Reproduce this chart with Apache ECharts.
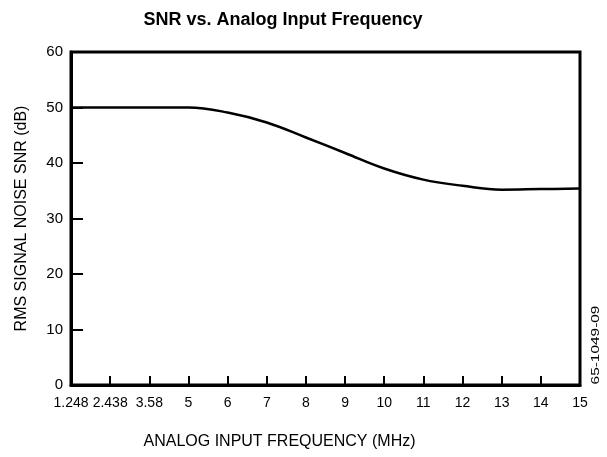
<!DOCTYPE html>
<html>
<head>
<meta charset="utf-8">
<script src="https://cdn.jsdelivr.net/npm/echarts@6/dist/echarts.min.js"></script>
<style>
html,body{margin:0;padding:0;background:#fff;}
#c{width:607px;height:457px;}
</style>
</head>
<body>
<div id="c"></div>
<script>
const categories = ['1.248','2.438','3.58','5','6','7','8','9','10','11','12','13','14','15'];
const snrValues = [50, 50, 50, 50, 49.1, 47.3, 44.6, 41.8, 39.0, 37.0, 35.9, 35.2, 35.3, 35.4];
const yTicks = {min: 0, max: 60, interval: 10};

const FONT = 'Liberation Sans, Arial, Helvetica, sans-serif';
const chart = echarts.init(document.getElementById('c'), null, {renderer: 'canvas'});
chart.setOption({
  backgroundColor: '#fff',
  animation: false,
  title: {
    text: 'SNR vs. Analog Input Frequency',
    left: 278,
    top: 6,
    textAlign: 'center',
    textStyle: {fontFamily: FONT, fontSize: 18, fontWeight: 'bold', color: '#000'}
  },
  grid: {
    left: 71, right: 27, top: 52, bottom: 72,
    show: true, borderColor: '#000', borderWidth: 3, backgroundColor: 'transparent'
  },
  xAxis: {
    type: 'category',
    data: categories,
    boundaryGap: false,
    name: 'ANALOG INPUT FREQUENCY (MHz)',
    nameLocation: 'middle',
    nameGap: 49,
    nameTextStyle: {fontFamily: FONT, fontSize: 16, color: '#000', padding: [0, 92, 0, 0]},
    axisLine: {lineStyle: {color: '#000', width: 3}},
    axisTick: {inside: true, length: 9, lineStyle: {color: '#000', width: 2}},
    axisLabel: {fontFamily: FONT, fontSize: 14, color: '#000', margin: 11, interval: 0},
    splitLine: {show: false}
  },
  yAxis: {
    type: 'value',
    min: yTicks.min, max: yTicks.max, interval: yTicks.interval,
    name: 'RMS SIGNAL NOISE SNR (dB)',
    nameLocation: 'middle',
    nameGap: 41,
    nameTextStyle: {fontFamily: FONT, fontSize: 16, color: '#000'},
    axisLine: {show: true, lineStyle: {color: '#000', width: 3}},
    axisTick: {show: true, inside: true, length: 12, lineStyle: {color: '#000', width: 2}},
    axisLabel: {fontFamily: FONT, fontSize: 15, color: '#000', margin: 8},
    splitLine: {show: false}
  },
  series: [{
    type: 'line',
    data: snrValues,
    smooth: 0.4,
    symbol: 'none',
    lineStyle: {color: '#000', width: 2.5}
  }],
  graphic: [{
    type: 'text',
    x: 596, y: 345,
    rotation: Math.PI / 2,
    scaleX: 1.4,
    style: {
      text: '65-1049-09',
      fontFamily: FONT, fontSize: 11, fill: '#000',
      align: 'center', verticalAlign: 'middle'
    }
  }]
});
</script>
</body>
</html>
